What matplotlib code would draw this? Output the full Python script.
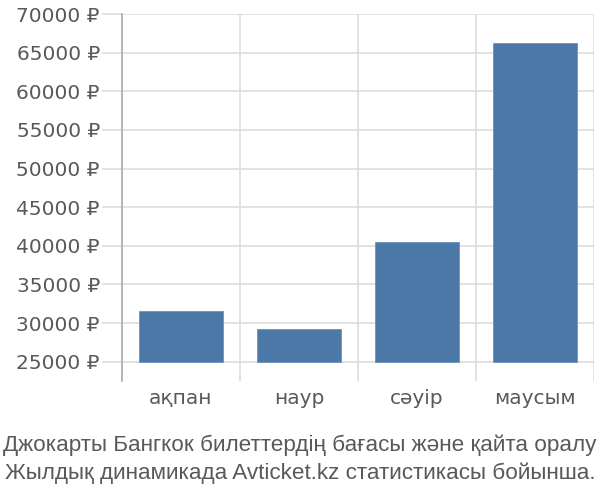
import matplotlib
matplotlib.use("Agg")
import matplotlib.pyplot as plt
import numpy as np

categories = ["ақпан", "наур", "сәуір", "маусым"]
prices = [31600, 29260, 40520, 66220]
y_ticks = [25000, 30000, 35000, 40000, 45000, 50000, 55000, 60000, 65000, 70000]
caption = ["Джокарты Бангкок билеттердің бағасы және қайта оралу",
           "Жылдық динамикада Avticket.kz статистикасы бойынша."]

plt.rcParams['font.family'] = ['DejaVu Sans']
text_color = "#595959"
grid_color = "#dddddd"

fig = plt.figure(figsize=(6, 5), dpi=100)
ax = fig.add_axes([122/600, 1-381/500, (594-122)/600, (381-14)/500])

base = 25000
x = np.arange(len(categories))
ax.bar(x, [p - base for p in prices], bottom=base, width=0.72,
       color="#4c78a8", edgecolor="#6d92bd", linewidth=0.6, zorder=3)

ax.set_xlim(-0.5, len(categories) - 0.5)
ax.set_ylim(22500, 70000)

ax.set_yticks(y_ticks)
ax.set_yticklabels([f"{v} ₽" for v in y_ticks])
ax.set_xticks(x)
ax.set_xticklabels(categories)
ax.set_xticks(np.arange(-0.5, len(categories)), minor=True)

ax.tick_params(axis='y', length=14.4, width=1.2, color=grid_color, pad=1.5,
               labelsize=14.5, labelcolor=text_color)
ax.tick_params(axis='x', which='major', length=0, pad=6,
               labelsize=14.5, labelcolor=text_color)
ax.tick_params(axis='x', which='minor', length=0)

ax.grid(axis='y', color=grid_color, linewidth=1.2, zorder=0)
ax.grid(axis='x', which='minor', color=grid_color, linewidth=1.2, zorder=0)
ax.grid(axis='x', which='major', visible=False)

for s in ['top', 'right', 'bottom']:
    ax.spines[s].set_visible(False)
ax.spines['left'].set_color("#aaaaaa")
ax.spines['left'].set_linewidth(1.2)

cap_font = ['Liberation Sans', 'DejaVu Sans']
fig.text(0.5, 1-445/500, caption[0], ha='center', va='center',
         fontsize=16.2, color=text_color, family=cap_font)
fig.text(0.5, 1-473/500, caption[1], ha='center', va='center',
         fontsize=16.2, color=text_color, family=cap_font)

fig.savefig("out.png", dpi=100)
